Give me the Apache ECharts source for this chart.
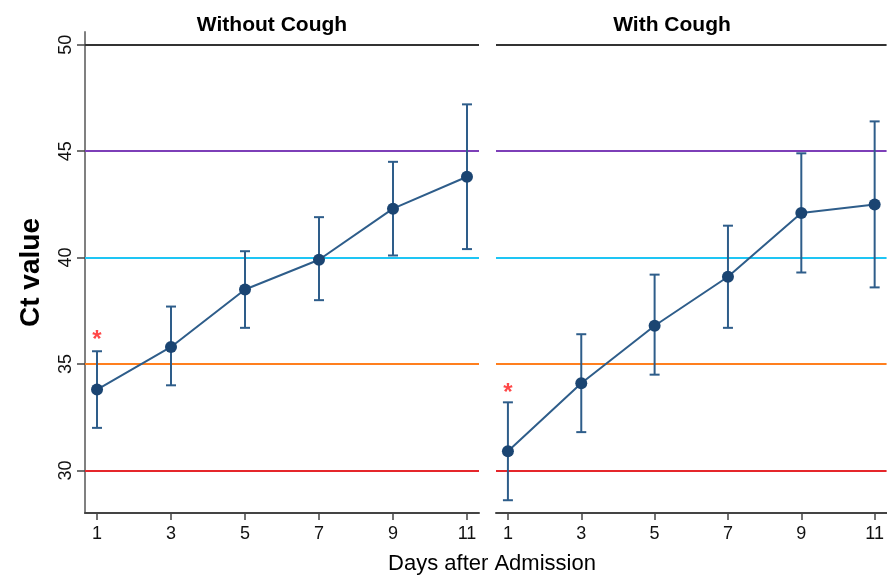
<!DOCTYPE html>
<html>
<head>
<meta charset="utf-8">
<script src="https://cdn.jsdelivr.net/npm/echarts@6/dist/echarts.min.js"></script>
<style>
  html, body { margin: 0; padding: 0; background: #fff; }
  #chart { width: 887px; height: 576px; }
</style>
</head>
<body>
<div id="chart"></div>
<script>
const days = [1, 3, 5, 7, 9, 11];
const yTicks = [30, 35, 40, 45, 50];

// Without Cough
const meanNo = [33.8, 35.8, 38.5, 39.9, 42.3, 43.8];
const lowNo  = [32.0, 34.0, 36.7, 38.0, 40.1, 40.4];
const highNo = [35.6, 37.7, 40.3, 41.9, 44.5, 47.2];
const starNo = [[1, 36.1]];

// With Cough
const meanYes = [30.9, 34.1, 36.8, 39.1, 42.1, 42.5];
const lowYes  = [28.6, 31.8, 34.5, 36.7, 39.3, 38.6];
const highYes = [33.2, 36.4, 39.2, 41.5, 44.9, 46.4];
const starYes = [[1, 33.6]];

// reference lines
const refValues = [50, 45, 40, 35, 30];
const refColors = ['#333333', '#7d3fb8', '#1ec5f4', '#ff7f1e', '#e5262b'];

const pointColor = '#1b4572';
const barColor = '#2e5d8a';
const font = 'Liberation Sans, Arial, sans-serif';

const chart = echarts.init(document.getElementById('chart'));

function errorSeries(idx, low, high) {
  return {
    type: 'custom',
    xAxisIndex: idx,
    yAxisIndex: idx,
    data: days.map((d, i) => [d, low[i], high[i]]),
    z: 3,
    renderItem: function (params, api) {
      const x = api.value(0);
      const pLo = api.coord([x, api.value(1)]);
      const pHi = api.coord([x, api.value(2)]);
      const w = 5;
      const style = { stroke: barColor, lineWidth: 2 };
      return {
        type: 'group',
        children: [
          { type: 'line', shape: { x1: pLo[0], y1: pLo[1], x2: pHi[0], y2: pHi[1] }, style: style },
          { type: 'line', shape: { x1: pLo[0] - w, y1: pLo[1], x2: pLo[0] + w, y2: pLo[1] }, style: style },
          { type: 'line', shape: { x1: pHi[0] - w, y1: pHi[1], x2: pHi[0] + w, y2: pHi[1] }, style: style }
        ]
      };
    }
  };
}

function meanSeries(idx, mean) {
  return {
    type: 'line',
    xAxisIndex: idx,
    yAxisIndex: idx,
    data: days.map((d, i) => [d, mean[i]]),
    symbol: 'circle',
    symbolSize: 12,
    itemStyle: { color: pointColor },
    lineStyle: { color: barColor, width: 2 },
    z: 4,
    markLine: {
      silent: true,
      symbol: 'none',
      label: { show: false },
      z: 1,
      data: refValues.map((v, i) => ({ yAxis: v, lineStyle: { color: refColors[i], width: 2, type: 'solid' } }))
    }
  };
}

function starSeries(idx, stars) {
  return {
    type: 'scatter',
    xAxisIndex: idx,
    yAxisIndex: idx,
    data: stars,
    symbolSize: 0,
    z: 5,
    label: {
      show: true,
      position: 'inside',
      formatter: '*',
      color: '#ff1a1a',
      fontSize: 24,
      fontWeight: 'bold',
      fontFamily: font
    }
  };
}

function xAxisCfg(idx) {
  return {
    type: 'value',
    gridIndex: idx,
    min: 0.675,
    max: 11.325,
    axisLine: { show: true, onZero: false, lineStyle: { color: '#444', width: 2 } },
    axisTick: { show: true, inside: false, length: 7, customValues: days, lineStyle: { color: '#444', width: 1.5 } },
    axisLabel: { customValues: days, fontSize: 18, color: '#111', fontFamily: font, margin: 12 },
    splitLine: { show: false }
  };
}

const option = {
  animation: false,
  backgroundColor: '#fff',
  grid: [
    { left: 85, top: 32, width: 394, height: 481 },
    { left: 496, top: 32, width: 394, height: 481 }
  ],
  xAxis: [xAxisCfg(0), xAxisCfg(1)],
  yAxis: [
    {
      type: 'value',
      gridIndex: 0,
      min: 28,
      max: 50.6,
      name: 'Ct value',
      nameLocation: 'middle',
      nameGap: 40,
      nameRotate: 90,
      nameTextStyle: { fontSize: 28, fontWeight: 'bold', color: '#000', fontFamily: font },
      axisLine: { show: true, lineStyle: { color: '#808080', width: 2 } },
      axisTick: { show: true, inside: false, length: 8, customValues: yTicks, lineStyle: { color: '#444', width: 1.5 } },
      axisLabel: { customValues: yTicks, rotate: 90, fontSize: 18, color: '#111', fontFamily: font, margin: 10 },
      splitLine: { show: false }
    },
    {
      type: 'value',
      gridIndex: 1,
      min: 28,
      max: 50.6,
      axisLine: { show: false },
      axisTick: { show: false },
      axisLabel: { show: false },
      splitLine: { show: false }
    }
  ],
  graphic: [
    { type: 'text', x: 272, y: 25, style: { text: 'Without Cough', font: 'bold 21px ' + font, fill: '#000', align: 'center', verticalAlign: 'middle' } },
    { type: 'text', x: 672, y: 25, style: { text: 'With Cough', font: 'bold 21px ' + font, fill: '#000', align: 'center', verticalAlign: 'middle' } },
    { type: 'text', x: 492, y: 564, style: { text: 'Days after Admission', font: '22px ' + font, fill: '#000', align: 'center', verticalAlign: 'middle' } }
  ],
  series: [
    errorSeries(0, lowNo, highNo),
    meanSeries(0, meanNo),
    starSeries(0, starNo),
    errorSeries(1, lowYes, highYes),
    meanSeries(1, meanYes),
    starSeries(1, starYes)
  ]
};

chart.setOption(option);
</script>
</body>
</html>
